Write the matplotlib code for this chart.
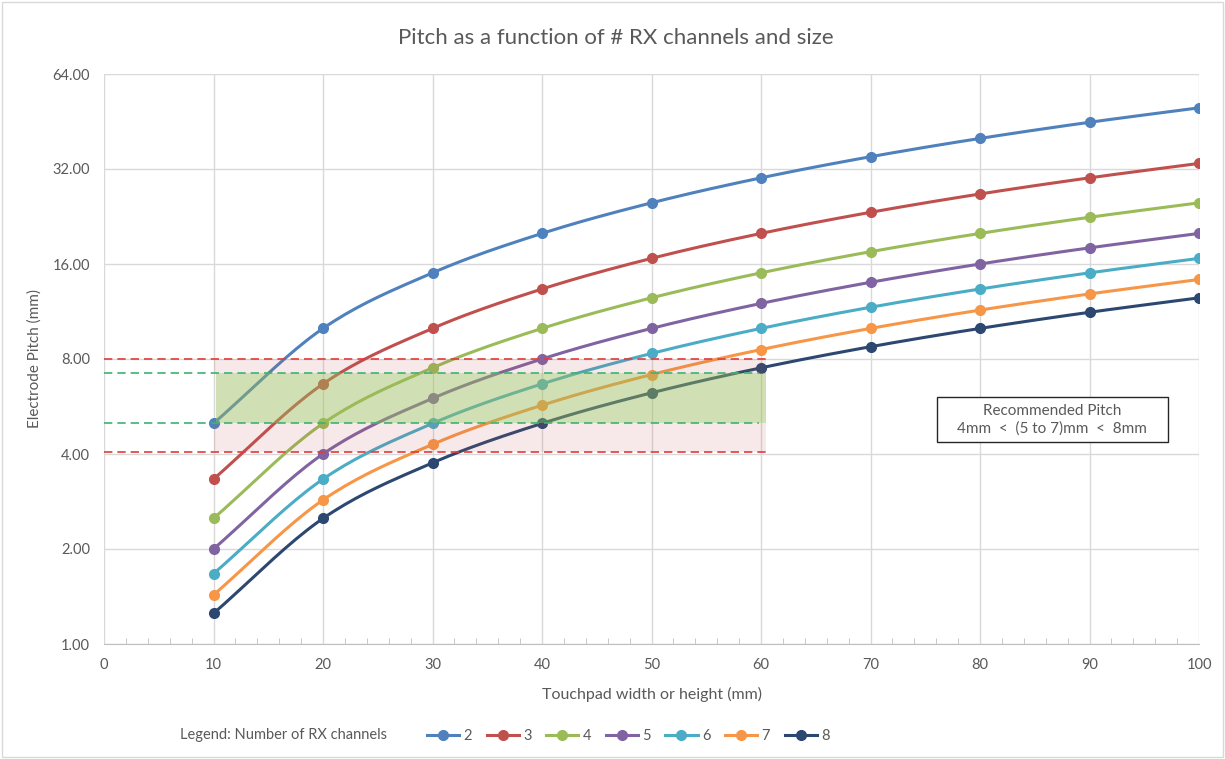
import numpy as np
import matplotlib
matplotlib.use("Agg")
import matplotlib.pyplot as plt
from matplotlib.patches import Rectangle
from matplotlib.lines import Line2D
from matplotlib.ticker import FixedLocator, MultipleLocator, NullFormatter

plt.rcParams['font.family'] = ['Lato', 'DejaVu Sans']

# ---- data ----
widths = [10, 20, 30, 40, 50, 60, 70, 80, 90, 100]
ch2 = [5.00, 10.00, 15.00, 20.00, 25.00, 30.00, 35.00, 40.00, 45.00, 50.00]
ch3 = [3.33, 6.67, 10.00, 13.33, 16.67, 20.00, 23.33, 26.67, 30.00, 33.33]
ch4 = [2.50, 5.00, 7.50, 10.00, 12.50, 15.00, 17.50, 20.00, 22.50, 25.00]
ch5 = [2.00, 4.00, 6.00, 8.00, 10.00, 12.00, 14.00, 16.00, 18.00, 20.00]
ch6 = [1.67, 3.33, 5.00, 6.67, 8.33, 10.00, 11.67, 13.33, 15.00, 16.67]
ch7 = [1.43, 2.86, 4.29, 5.71, 7.14, 8.57, 10.00, 11.43, 12.86, 14.29]
ch8 = [1.25, 2.50, 3.75, 5.00, 6.25, 7.50, 8.75, 10.00, 11.25, 12.50]
series_labels = ['2', '3', '4', '5', '6', '7', '8']
series = [ch2, ch3, ch4, ch5, ch6, ch7, ch8]
colors = ['#4F81BD', '#C0504D', '#9BBB59', '#8064A2', '#4BACC6', '#F79646', '#2C4770']
y_ticks = [1, 2, 4, 8, 16, 32, 64]
limit_low, limit_high = 4.05, 8.0
rec_low, rec_high = 5.0, 7.2
band_x = [10, 60.5]


def smooth(xs, ys, n=20):
    xs = np.asarray(xs, float)
    ly = np.log2(np.asarray(ys, float))
    px = np.concatenate([[2 * xs[0] - xs[1]], xs, [2 * xs[-1] - xs[-2]]])
    py = np.concatenate([[2 * ly[0] - ly[1]], ly, [2 * ly[-1] - ly[-2]]])
    ox, oy = [], []
    for i in range(1, len(px) - 2):
        t = np.linspace(0, 1, n, endpoint=(i == len(px) - 3))
        for P, out in ((px, ox), (py, oy)):
            p0, p1, p2, p3 = P[i - 1], P[i], P[i + 1], P[i + 2]
            out.extend(0.5 * ((2 * p1) + (-p0 + p2) * t +
                              (2 * p0 - 5 * p1 + 4 * p2 - p3) * t ** 2 +
                              (-p0 + 3 * p1 - 3 * p2 + p3) * t ** 3))
    return np.array(ox), 2 ** np.array(oy)


fig = plt.figure(figsize=(12.25, 7.59), dpi=100)
ax = fig.add_axes([104 / 1225, 1 - 644 / 759, (1199 - 104) / 1225, (644 - 74) / 759])

ax.set_yscale('log', base=2)
ax.set_xlim(0, 100)
ax.set_ylim(1, 64)

for ys, c, lab in zip(series, colors, series_labels):
    sx, sy = smooth(widths, ys)
    ax.plot(sx, sy, color=c, lw=2.2, zorder=3, solid_capstyle='round')
    ax.plot(widths, ys, 'o', color=c, ms=7, zorder=4)

# shaded bands (drawn over lines, semi-transparent)
bw = band_x[1] - band_x[0]
ax.add_patch(Rectangle((band_x[0], limit_low), bw, rec_low - limit_low,
                       facecolor='#C0504D', alpha=0.12, edgecolor='none', zorder=5))
ax.add_patch(Rectangle((band_x[0], rec_high), bw, limit_high - rec_high,
                       facecolor='#C0504D', alpha=0.12, edgecolor='none', zorder=5))
ax.add_patch(Rectangle((band_x[0] + 0.2, rec_low), bw - 0.2, rec_high - rec_low,
                       facecolor='#9BBB59', alpha=0.45, edgecolor='none', zorder=5))
ax.plot([0, band_x[1]], [limit_high, limit_high], ls=(0, (5, 3)), color='#E03C3C', lw=1.2, zorder=6)
ax.plot([0, band_x[1]], [limit_low, limit_low], ls=(0, (5, 3)), color='#E03C3C', lw=1.2, zorder=6)
ax.plot([0, 59.8], [rec_high, rec_high], ls=(0, (5, 3)), color='#3CB371', lw=1.2, zorder=6)
ax.plot([0, 59.8], [rec_low, rec_low], ls=(0, (5, 3)), color='#3CB371', lw=1.2, zorder=6)

# axes styling
ax.yaxis.set_major_locator(FixedLocator(y_ticks))
ax.yaxis.set_minor_locator(FixedLocator([]))
ax.yaxis.set_minor_formatter(NullFormatter())
ax.set_yticklabels([f'{v:.2f}' for v in y_ticks])
ax.xaxis.set_major_locator(MultipleLocator(10))
ax.xaxis.set_minor_locator(MultipleLocator(2))
ax.grid(True, which='major', color='#D9D9D9', lw=1, zorder=0)
ax.set_axisbelow(True)
for s in ['top', 'right', 'left']:
    ax.spines[s].set_visible(False)
ax.spines['bottom'].set_color('#BFBFBF')
ax.tick_params(axis='both', which='major', length=0, labelsize=10.5, labelcolor='#595959', pad=10)
ax.tick_params(axis='x', which='minor', direction='in', length=4, color='#BFBFBF')
ax.tick_params(axis='x', which='major', direction='in', length=0)

ax.set_xlabel('Touchpad width or height (mm)', fontsize=11.5, color='#595959', labelpad=11)
ax.set_ylabel('Electrode Pitch (mm)', fontsize=11, color='#595959', labelpad=8)

fig.text(616 / 1225, 1 - 38 / 759, 'Pitch as a function of # RX channels and size',
         ha='center', va='center', fontsize=16, color='#595959')

# recommendation box
ax.add_patch(Rectangle((76.07, 4.37), 97.17 - 76.07, 6.06 - 4.37, facecolor='white',
                       edgecolor='#262626', lw=1, zorder=7))
ax.text(86.6, 5.13, 'Recommended Pitch\n4mm  <  (5 to 7)mm  <  8mm', ha='center', va='center',
        fontsize=11, color='#595959', linespacing=1.25, zorder=8)

# legend
fig.text(180 / 1225, 1 - 735 / 759, 'Legend: Number of RX channels', ha='left', va='center',
         fontsize=10.5, color='#595959')
handles = [Line2D([0], [0], color=c, lw=2.2, marker='o', ms=7) for c in colors]
fig.legend(handles, series_labels, loc='center left', bbox_to_anchor=(414 / 1225, 1 - 736 / 759),
           ncol=7, frameon=False, fontsize=10.5, labelcolor='#595959', handlelength=2.2,
           handletextpad=0.3, columnspacing=1.0)

# chart border
fig.patches.append(Rectangle((0.002, 0.002), 0.996, 0.996, transform=fig.transFigure,
                             fill=False, edgecolor='#D9D9D9', lw=1))

fig.savefig('out.png', dpi=100)
